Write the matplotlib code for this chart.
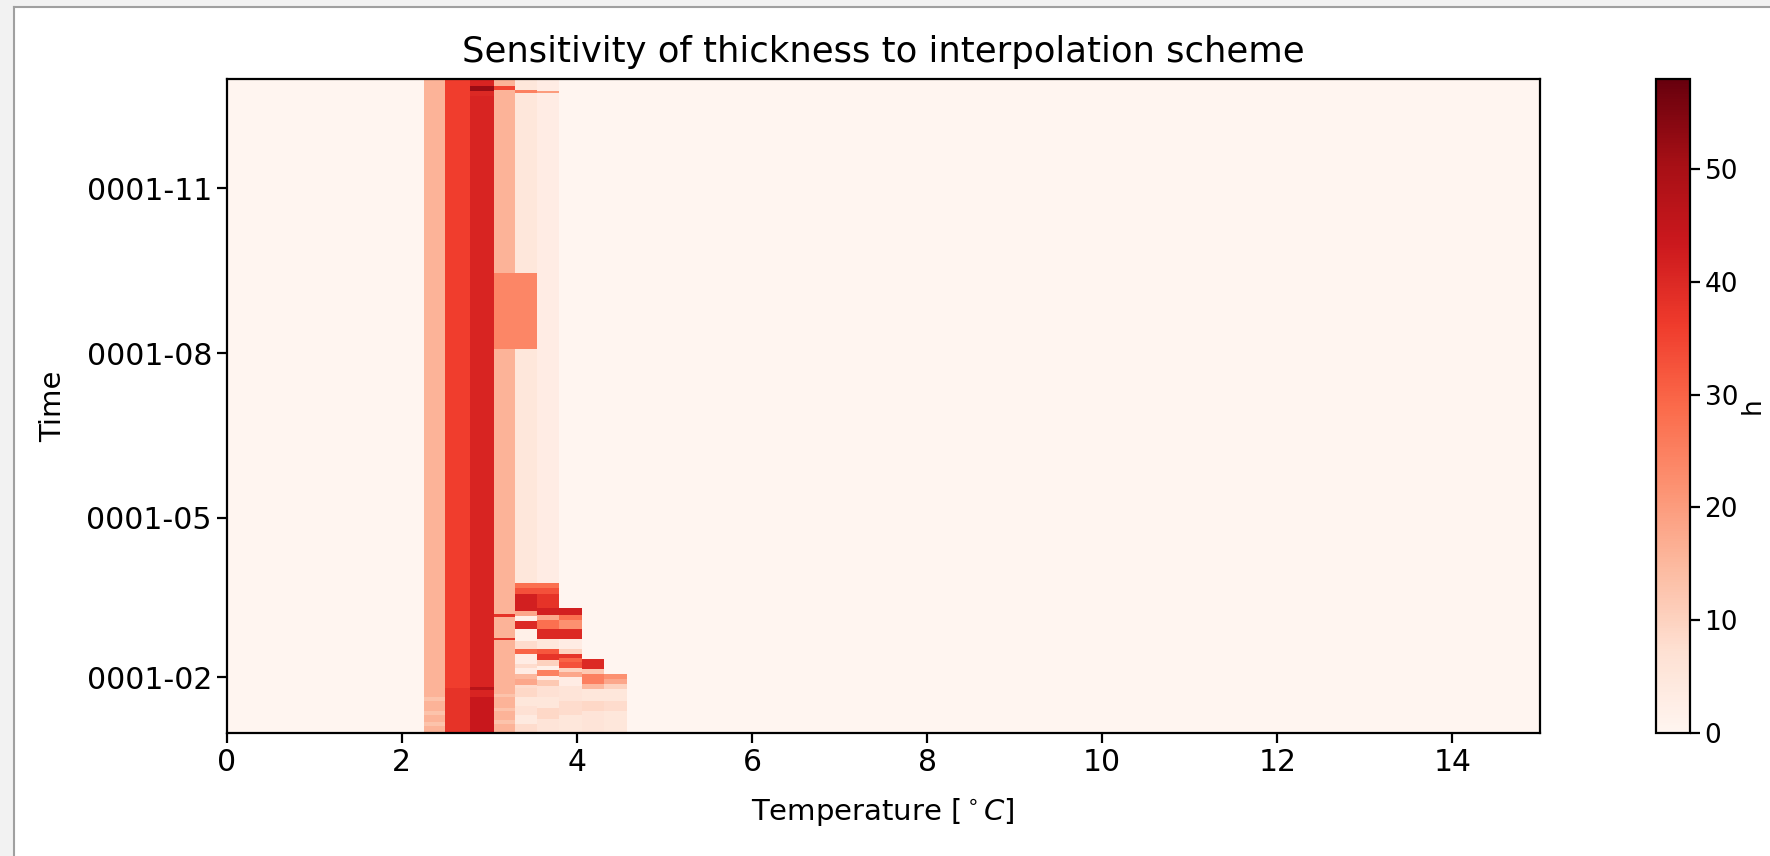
import numpy as np
import matplotlib
matplotlib.use("Agg")
import matplotlib.pyplot as plt
from matplotlib.patches import Rectangle

# temperature bin edges (degC); past 4.57 everything is ~0
temp_edges = [0, 0.25, 0.5, 0.75, 1.0, 1.25, 1.5, 1.75, 2.0, 2.25,
              2.5, 2.78, 3.05, 3.3, 3.55, 3.8, 4.06, 4.31, 4.57, 15.0]
n_days = 365
tick_days = [31, 120, 212, 304]
tick_labels = ['0001-02', '0001-05', '0001-08', '0001-11']

# columns that are (nearly) constant over the whole year: bin index -> h
base_cols = [9, 10, 11, 12, 13, 14]
base_vals = [16, 36, 41, 16, 5, 3]

# (bin index, start day, end day, h)
top_stripes = [
    (11, 355.5, 358.5, 40), (11, 358.5, 361, 52),
    (12, 359, 361, 35), (13, 357, 359, 25), (14, 357, 358.5, 20),
]
mid_block = [(12, 214.5, 257, 24), (13, 214.5, 257, 24)]
low_stripes = [
    # 2.25-3.3 columns, winter streaks
    (9, 4, 6, 13), (9, 10, 12, 13), (9, 18, 20, 13),
    (10, 0, 25, 38), (11, 0, 20, 44), (11, 24, 25.5, 47),
    (12, 5, 7, 13), (12, 12, 14, 13), (12, 20, 22, 13),
    (12, 52, 53, 38), (12, 65, 66.5, 38),
    # 3.3-3.55
    (13, 0, 5, 8), (13, 5, 10, 4), (13, 10, 15, 7), (13, 15, 20, 5), (13, 20, 25, 9),
    (13, 25, 27, 8), (13, 27, 30, 18), (13, 30, 33, 15), (13, 33, 36, 3),
    (13, 36, 38.5, 8), (13, 38.5, 44, 3), (13, 44, 47, 30), (13, 47, 51.4, 8),
    (13, 51.4, 58, 2), (13, 58, 62.5, 40), (13, 62.5, 65.3, 2), (13, 65.3, 68, 18),
    (13, 68, 77.3, 42), (13, 77.3, 81, 33), (13, 81, 83.3, 28),
    # 3.55-3.8
    (14, 0, 8, 6), (14, 8, 14, 9), (14, 14, 20, 5), (14, 20, 26.5, 7),
    (14, 26.5, 29.5, 12), (14, 29.5, 32, 3), (14, 32, 35, 25), (14, 35, 37.5, 2),
    (14, 37.5, 40.5, 10), (14, 40.5, 44, 38), (14, 44, 47, 32), (14, 47, 52.4, 5),
    (14, 52.4, 58, 40), (14, 58, 63, 28), (14, 63, 66, 18), (14, 66, 69.3, 42),
    (14, 69.3, 77.3, 38), (14, 77.3, 81, 33), (14, 81, 83.3, 28),
    # 3.8-4.06
    (15, 0, 10, 5), (15, 10, 18, 8), (15, 18, 26.5, 6), (15, 26.5, 31, 3),
    (15, 31, 34, 18), (15, 34, 36.7, 10), (15, 36.7, 39.5, 33), (15, 39.5, 42, 30),
    (15, 42, 44, 38), (15, 44, 47, 10), (15, 47, 52.4, 3), (15, 52.4, 58, 40),
    (15, 58, 63, 22), (15, 63, 66, 28), (15, 66, 69.3, 42),
    # 4.06-4.31
    (16, 0, 12, 6), (16, 12, 18, 9), (16, 18, 24.7, 5), (16, 24.7, 27.4, 15),
    (16, 27.4, 33, 25), (16, 33, 35.7, 12), (16, 35.7, 41.3, 40),
    # 4.31-4.57
    (17, 0, 12, 5), (17, 12, 18, 8), (17, 18, 24.7, 5), (17, 24.7, 27.4, 10),
    (17, 27.4, 30, 18), (17, 30, 33, 22),
]

# build the field on a half-day grid
time_edges = np.arange(0, n_days + 0.01, 0.5)
t_mid = 0.5 * (time_edges[:-1] + time_edges[1:])
h = np.zeros((len(t_mid), len(temp_edges) - 1))
for c, v in zip(base_cols, base_vals):
    h[:, c] = v
for c, d0, d1, v in top_stripes + mid_block + low_stripes:
    h[(t_mid >= d0) & (t_mid < d1), c] = v

plt.rcParams['font.family'] = 'DejaVu Sans'
fig = plt.figure(figsize=(17.7, 8.56), dpi=100)
ax = fig.add_axes([0.128, 0.1437, 0.742, 0.764])
cax = fig.add_axes([0.9356, 0.1437, 0.0192, 0.764])

pc = ax.pcolormesh(temp_edges, time_edges, h, cmap='Reds', vmin=0, vmax=58)
ax.set_xlim(0, 15)
ax.set_ylim(0, n_days)
ax.set_yticks(tick_days)
ax.set_yticklabels(tick_labels)
ax.set_xlabel(r'Temperature [$^\circ C$]', fontsize=21, labelpad=14)
ax.set_ylabel('Time', fontsize=21, labelpad=14)
ax.set_title('Sensitivity of thickness to interpolation scheme', fontsize=25.5, pad=12)
ax.tick_params(labelsize=21.5, length=7, width=1.6)
for s in ax.spines.values():
    s.set_linewidth(1.6)

cb = fig.colorbar(pc, cax=cax)
cb.set_label('h', fontsize=19)
cb.ax.tick_params(labelsize=19, length=7, width=1.6)
cb.outline.set_linewidth(1.6)
cb.ax.yaxis.set_label_coords(2.85, 0.5)
cb.ax.yaxis.label.set_verticalalignment('center')

# window frame of the screenshot
fig.patches.append(Rectangle((0, 0), 14 / 1770, 1, transform=fig.transFigure,
                             facecolor='#f2f2f2', edgecolor='none'))
fig.patches.append(Rectangle((0, 1 - 7 / 856), 1, 7 / 856, transform=fig.transFigure,
                             facecolor='#f2f2f2', edgecolor='none'))
fig.add_artist(plt.Line2D([14 / 1770, 14 / 1770], [0, 1 - 7 / 856], transform=fig.transFigure,
                          color='#a0a0a0', lw=1.5))
fig.add_artist(plt.Line2D([14 / 1770, 1], [1 - 7 / 856, 1 - 7 / 856], transform=fig.transFigure,
                          color='#a0a0a0', lw=1.5))

fig.savefig('out.png', dpi=100)
